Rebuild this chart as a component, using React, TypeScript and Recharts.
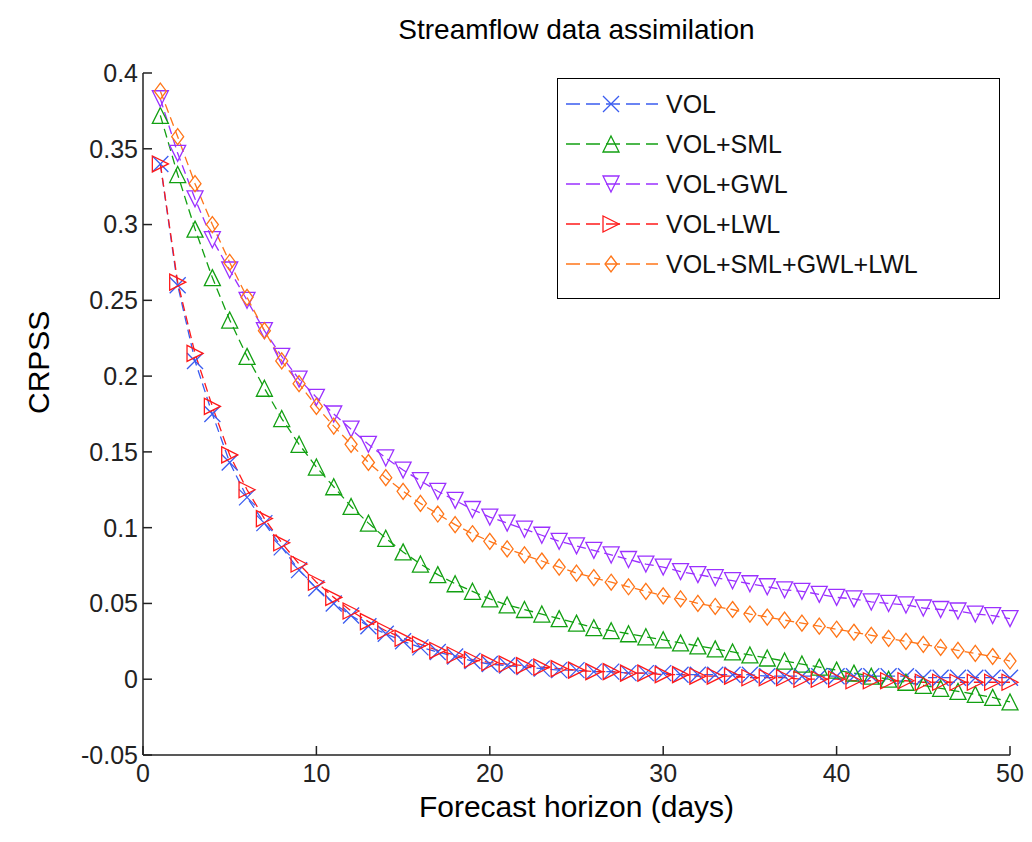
import React from "react"
import { LineChart, Line, XAxis, YAxis } from "recharts"

const days = Array.from({ length: 50 }, (_, i) => i + 1)

const vol = [0.34, 0.26, 0.21, 0.175, 0.143, 0.12, 0.103, 0.087, 0.072, 0.06, 0.05, 0.042, 0.035, 0.03, 0.025, 0.021, 0.018, 0.015, 0.012, 0.01,
  0.009, 0.008, 0.007, 0.006, 0.006, 0.005, 0.005, 0.004, 0.004, 0.004, 0.003, 0.003, 0.003, 0.003, 0.003, 0.002, 0.002, 0.002, 0.002, 0.002,
  0.002, 0.002, 0.002, 0.002, 0.001, 0.001, 0.001, 0.001, 0.001, 0.001]
const sml = [0.372, 0.333, 0.297, 0.265, 0.237, 0.213, 0.192, 0.172, 0.155, 0.14, 0.127, 0.114, 0.103, 0.093, 0.084, 0.076, 0.069, 0.063, 0.058, 0.053,
  0.049, 0.046, 0.043, 0.04, 0.037, 0.034, 0.032, 0.03, 0.028, 0.026, 0.024, 0.022, 0.02, 0.018, 0.016, 0.014, 0.012, 0.01, 0.008, 0.006,
  0.004, 0.002, 0.0, -0.002, -0.004, -0.006, -0.008, -0.01, -0.012, -0.015]
const gwl = [0.383, 0.347, 0.317, 0.29, 0.27, 0.25, 0.23, 0.213, 0.198, 0.186, 0.175, 0.165, 0.155, 0.146, 0.138, 0.131, 0.124, 0.118, 0.112, 0.107,
  0.103, 0.099, 0.095, 0.091, 0.088, 0.085, 0.082, 0.079, 0.076, 0.074, 0.071, 0.069, 0.067, 0.065, 0.063, 0.061, 0.059, 0.058, 0.056, 0.054,
  0.053, 0.051, 0.05, 0.049, 0.047, 0.046, 0.045, 0.043, 0.042, 0.04]
const lwl = [0.34, 0.262, 0.215, 0.18, 0.148, 0.125, 0.106, 0.09, 0.076, 0.064, 0.054, 0.045, 0.038, 0.032, 0.027, 0.023, 0.019, 0.016, 0.013, 0.011,
  0.01, 0.009, 0.008, 0.007, 0.006, 0.005, 0.005, 0.004, 0.004, 0.003, 0.003, 0.002, 0.002, 0.002, 0.001, 0.001, 0.001, 0.0, 0.0, 0.0,
  -0.001, -0.001, -0.001, -0.001, -0.002, -0.002, -0.002, -0.002, -0.002, -0.002]
const all = [0.388, 0.358, 0.327, 0.3, 0.275, 0.252, 0.23, 0.21, 0.195, 0.18, 0.167, 0.155, 0.143, 0.133, 0.124, 0.116, 0.109, 0.102, 0.096, 0.091,
  0.086, 0.082, 0.078, 0.074, 0.07, 0.067, 0.064, 0.061, 0.058, 0.055, 0.053, 0.05, 0.048, 0.046, 0.043, 0.041, 0.039, 0.037, 0.035, 0.033,
  0.031, 0.029, 0.027, 0.025, 0.023, 0.021, 0.019, 0.017, 0.015, 0.012]

const xTicks = [0, 10, 20, 30, 40, 50]
const yTicks = [-0.05, 0, 0.05, 0.1, 0.15, 0.2, 0.25, 0.3, 0.35, 0.4]

const data = days.map((d, i) => ({ day: d, vol: vol[i], sml: sml[i], gwl: gwl[i], lwl: lwl[i], all: all[i] }))

type Shape = "x" | "up" | "down" | "right" | "diamond"

function marker(shape: Shape, cx: number, cy: number, color: string, key?: any) {
  const s = 8
  let el
  if (shape === "x") {
    el = <path d={`M${cx - s},${cy - s}L${cx + s},${cy + s}M${cx - s},${cy + s}L${cx + s},${cy - s}`} />
  } else if (shape === "up") {
    el = <polygon points={`${cx},${cy - s} ${cx + s},${cy + s} ${cx - s},${cy + s}`} />
  } else if (shape === "down") {
    el = <polygon points={`${cx},${cy + s} ${cx + s},${cy - s} ${cx - s},${cy - s}`} />
  } else if (shape === "right") {
    el = <polygon points={`${cx + s},${cy} ${cx - s},${cy - s} ${cx - s},${cy + s}`} />
  } else {
    el = <polygon points={`${cx},${cy - s} ${cx + s * 0.75},${cy} ${cx},${cy + s} ${cx - s * 0.75},${cy}`} />
  }
  return (
    <g key={key} stroke={color} strokeWidth={1.3} fill="none">
      {el}
    </g>
  )
}

const series: { key: string; name: string; color: string; shape: Shape }[] = [
  { key: "vol", name: "VOL", color: "#3a5cf0", shape: "x" },
  { key: "sml", name: "VOL+SML", color: "#12a012", shape: "up" },
  { key: "gwl", name: "VOL+GWL", color: "#9b30ff", shape: "down" },
  { key: "lwl", name: "VOL+LWL", color: "#ff1a1a", shape: "right" },
  { key: "all", name: "VOL+SML+GWL+LWL", color: "#ff7518", shape: "diamond" },
]

const font = "'Liberation Sans', Arial, sans-serif"

export default function App() {
  return (
    <div style={{ position: "absolute", left: 0, top: 0, width: 1032, height: 842, background: "#fff", fontFamily: font }}>
      <div style={{ position: "absolute", left: 143, width: 867, top: 14, textAlign: "center", fontSize: 28, color: "#000" }}>
        Streamflow data assimilation
      </div>
      <LineChart width={1032} height={842} data={data} margin={{ top: 73, right: 22, bottom: 27, left: 63 }}>
        <XAxis dataKey="day" type="number" domain={[0, 50]} ticks={xTicks} stroke="#222" strokeWidth={1.5} tickSize={-9}
          tick={{ fill: "#222", fontSize: 25, fontFamily: font, dy: 16 }} height={60}
          label={{ value: "Forecast horizon (days)", position: "insideBottom", offset: -2, fill: "#000", fontSize: 30, fontFamily: font }} />
        <XAxis xAxisId="top" orientation="top" dataKey="day" type="number" domain={[0, 50]} ticks={xTicks} stroke="#222" strokeWidth={1.5} tickSize={-9} tick={false} height={0} />
        <YAxis type="number" domain={[-0.05, 0.4]} ticks={yTicks} stroke="#222" strokeWidth={1.5} tickSize={-9} width={80}
          tick={{ fill: "#222", fontSize: 25, fontFamily: font, dx: -12 }}
          label={{ value: "CRPSS", angle: -90, position: "insideLeft", offset: -25, fill: "#000", fontSize: 30, fontFamily: font }} />
        <YAxis yAxisId="right" orientation="right" type="number" domain={[-0.05, 0.4]} ticks={yTicks} stroke="#222" strokeWidth={1.5} tickSize={-9} tick={false} width={0} />
        {series.map((s) => (
          <Line key={s.key} dataKey={s.key} name={s.name} stroke={s.color} strokeWidth={1.3} strokeDasharray="9 5"
            isAnimationActive={false}
            dot={(p: any) => marker(s.shape, p.cx, p.cy, s.color, `${s.key}-${p.index}`)} activeDot={false} />
        ))}
      </LineChart>
      <div style={{ position: "absolute", left: 557, top: 78, width: 441, height: 219, border: "1.5px solid #000", background: "#fff" }}>
        {series.map((s, i) => (
          <div key={s.key} style={{ position: "absolute", top: 8 + i * 40, left: 0, height: 34, display: "flex", alignItems: "center" }}>
            <svg width={108} height={34}>
              <line x1={8} y1={17} x2={100} y2={17} stroke={s.color} strokeWidth={1.3} strokeDasharray="14 6" />
              {marker(s.shape, 53, 17, s.color)}
            </svg>
            <span style={{ fontSize: 25, color: "#111" }}>{s.name}</span>
          </div>
        ))}
      </div>
    </div>
  )
}
